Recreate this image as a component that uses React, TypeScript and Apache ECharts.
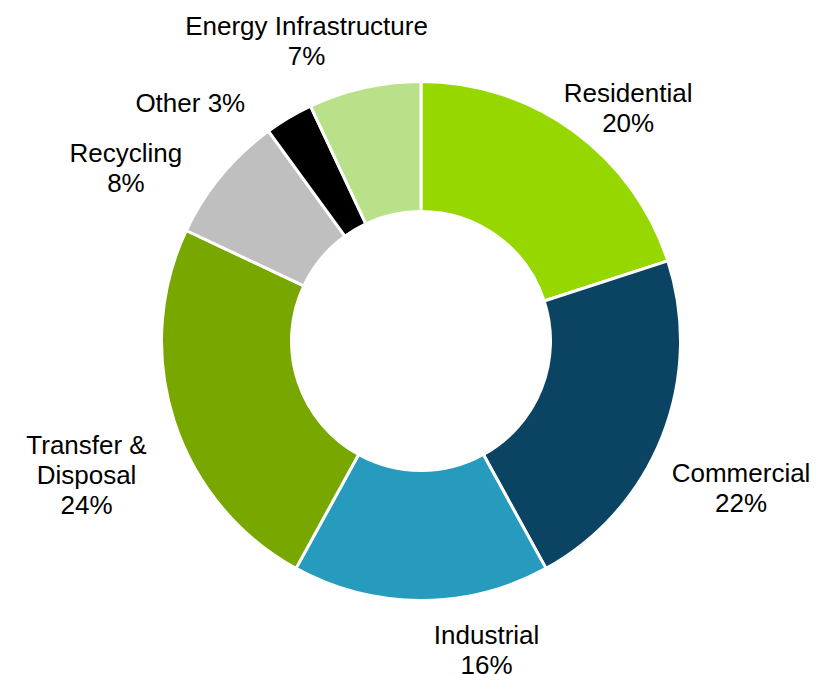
import React, { useEffect, useRef } from "react";
import * as echarts from "echarts";

// Data
const categories = [
  "Residential",
  "Commercial",
  "Industrial",
  "Transfer &\nDisposal",
  "Recycling",
  "Other",
  "Energy Infrastructure",
];
const shares = [20, 22, 16, 24, 8, 3, 7];
const labelSeparators = ["\n", "\n", "\n", "\n", "\n", " ", "\n"];

// Styles
const sliceColors = [
  "#97D700",
  "#0B4462",
  "#279BBE",
  "#78A800",
  "#BFBFBF",
  "#000000",
  "#B9E18A",
];
// label placement relative to pie centre: [angle clockwise from top (deg), distance (px)]
const labelPlacement: [number, number][] = [
  [41.6, 312],
  [114.6, 352],
  [168.0, 315.4],
  [248.1, 360.5],
  [300.4, 342.1],
  [315.9, 331.5],
  [339.1, 320.9],
];

const CX = 421;
const CY = 341;

export default function App() {
  const ref = useRef<HTMLDivElement>(null);

  useEffect(() => {
    if (!ref.current) return;
    const chart = echarts.init(ref.current, undefined, { renderer: "svg" });
    const data = categories.map((name, i) => ({
      name,
      value: shares[i],
      itemStyle: { color: sliceColors[i] },
    }));
    chart.setOption({
      animation: false,
      backgroundColor: "#ffffff",
      series: [
        {
          type: "pie",
          center: [CX, CY],
          radius: [129.5, 259.5],
          startAngle: 90,
          clockwise: true,
          avoidLabelOverlap: false,
          itemStyle: { borderColor: "#ffffff", borderWidth: 3 },
          emphasis: { disabled: true },
          label: {
            show: true,
            position: "outside",
            color: "#000000",
            fontFamily: "Liberation Sans, Arial, sans-serif",
            fontSize: 26,
            lineHeight: 30,
            align: "center",
            formatter: (p: any) =>
              `${p.name}${labelSeparators[p.dataIndex]}${p.value}%`,
          },
          labelLine: { show: false },
          labelLayout: (p: any) => {
            const [deg, dist] = labelPlacement[p.dataIndex];
            const a = (deg * Math.PI) / 180;
            return {
              x: CX + Math.sin(a) * dist,
              y: CY - Math.cos(a) * dist,
              align: "center",
              verticalAlign: "middle",
            };
          },
          data,
        },
      ],
    });
    return () => chart.dispose();
  }, []);

  return (
    <div
      ref={ref}
      style={{ position: "absolute", left: 0, top: 0, width: 817, height: 674 }}
    />
  );
}
